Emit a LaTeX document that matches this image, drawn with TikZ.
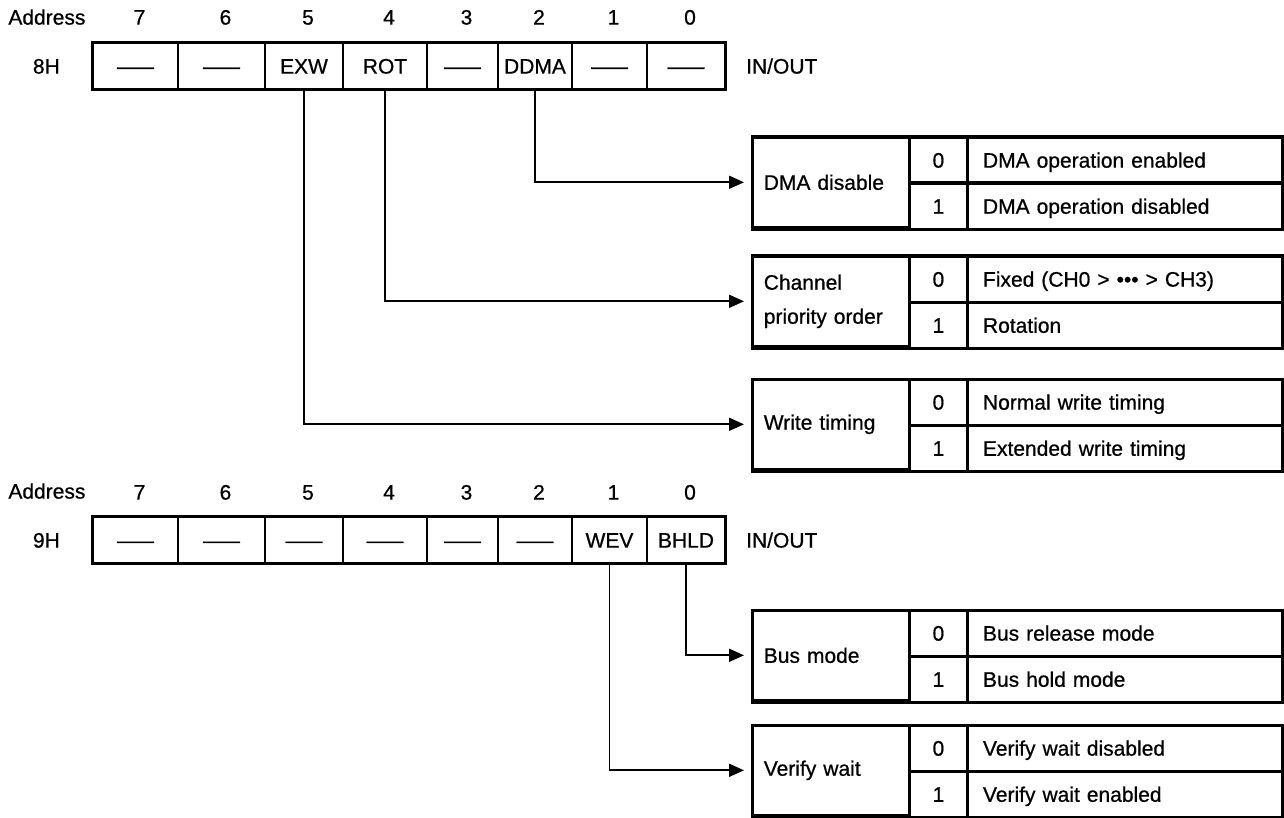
\documentclass[tikz,border=0pt]{standalone}
\usepackage{fontspec}
\setmainfont{Liberation Sans}[FakeBold=0.7]
\usetikzlibrary{positioning,arrows.meta}
\newcommand{\nobit}{\scalebox{1.75}[1]{—}}
\tikzset{
  txt/.style={inner sep=0pt, font=\fontsize{10.5}{17}\selectfont,
              text height=7.6pt, text depth=0pt},
  cell/.style={txt, draw, line width=0.8pt, minimum height=23pt},
  outer/.style={draw, line width=1.5pt},
  lblcell/.style={draw, line width=0.8pt, minimum height=44.5pt, text width=67pt,
                  inner xsep=5.5pt, inner ysep=0pt, align=left,
                  font=\fontsize{10.5}{17}\selectfont},
  bitcell/.style={cell, minimum width=28pt, minimum height=22.25pt},
  valcell/.style={cell, minimum height=22.25pt, text width=142pt,
                  inner xsep=7.5pt, align=left},
  link/.style={draw, line width=0.9pt, -{Triangle[length=7.5pt,width=6.5pt]},
               shorten >=4pt},
}
\begin{document}
\begin{tikzpicture}[x=0.5pt, y=-0.5pt]
  \useasboundingbox (0,0) rectangle (1284,818);

  % register 8H
  \node[txt, anchor=west] (adr8) at (8,17) {Address};
  \foreach \b/\l/\r/\t [evaluate=\l as \cx using (\l+\r)/2,
                        evaluate=\l as \w using (\r-\l)*0.5]
    in {7/93/178/\nobit, 6/178/265/\nobit, 5/265/343/EXW, 4/343/427/ROT,
        3/427/498/\nobit, 2/498/572/DDMA, 1/572/647/\nobit, 0/647/725/\nobit} {
    \node[cell, minimum width=\w pt] (r8b\b) at (\cx,66) {\t};
    \node[txt] (d8\b) at (\cx+4,17) {\b};
  }
  \draw[outer] (r8b7.north west) rectangle (r8b0.south east);
  \node[txt, left=16pt of r8b7] (a8h) {8H};
  \node[txt, right=10pt of r8b0] (io8) {IN/OUT};

  % register 9H
  \node[txt, anchor=west] (adr9) at (8,491) {Address};
  \foreach \b/\l/\r/\t [evaluate=\l as \cx using (\l+\r)/2,
                        evaluate=\l as \w using (\r-\l)*0.5]
    in {7/93/178/\nobit, 6/178/265/\nobit, 5/265/343/\nobit, 4/343/427/\nobit,
        3/427/498/\nobit, 2/498/572/\nobit, 1/572/647/WEV, 0/647/725/BHLD} {
    \node[cell, minimum width=\w pt] (r9b\b) at (\cx,540) {\t};
    \node[txt] (d9\b) at (\cx+4,492) {\b};
  }
  \draw[outer] (r9b7.north west) rectangle (r9b0.south east);
  \node[txt, left=16pt of r9b7] (a9h) {9H};
  \node[txt, right=10pt of r9b0] (io9) {IN/OUT};

  % bit tables
  \foreach \n/\y/\lab/\va/\vb in {
      dma/137/{DMA disable}/{DMA operation enabled}/{DMA operation disabled},
      chp/256/{Channel\\priority order}/{Fixed (CH0 > ••• > CH3)}/{Rotation},
      wrt/379/{Write timing}/{Normal write timing}/{Extended write timing},
      bus/610/{Bus mode}/{Bus release mode}/{Bus hold mode},
      vfy/725/{Verify wait}/{Verify wait disabled}/{Verify wait enabled}} {
    \node[lblcell, anchor=north west] (\n) at (752,\y) {\lab};
    \node[bitcell, anchor=north west] (\n0) at (\n.north east) {0};
    \node[bitcell, anchor=north west] (\n1) at (\n0.south west) {1};
    \node[valcell, anchor=north west] (\n-v0) at (\n0.north east) {\va};
    \node[valcell, anchor=north west] (\n-v1) at (\n1.north east) {\vb};
    \draw[outer] (\n.north west) rectangle (\n-v1.south east);
  }

  \draw[link] (r8b2.south) |- (dma.west);
  \draw[link] (r8b4.south) |- (chp.west);
  \draw[link] (r8b5.south) |- (wrt.west);
  \draw[link] (r9b0.south) |- (bus.west);
  \draw[link] (r9b1.south) |- (vfy.west);
\end{tikzpicture}
\end{document}
